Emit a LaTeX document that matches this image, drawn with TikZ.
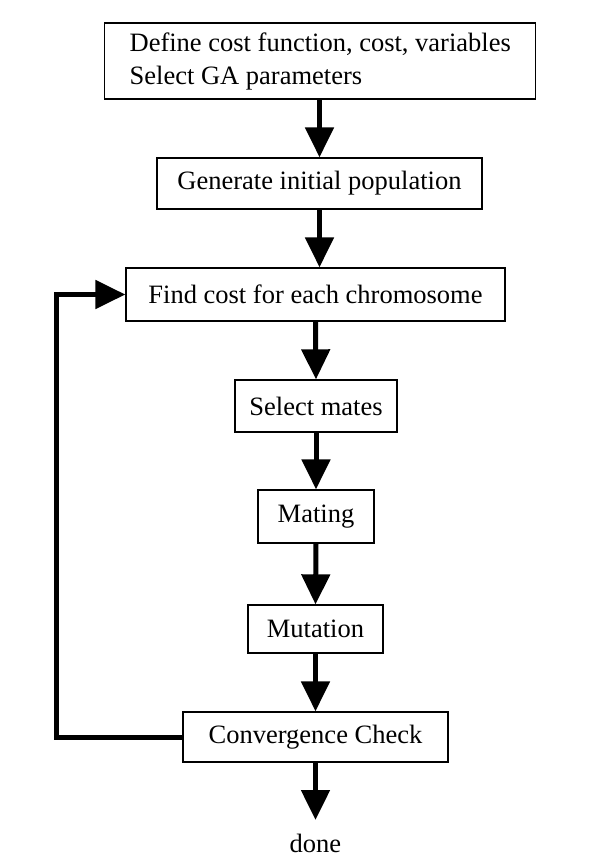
\documentclass[tikz,border=0pt]{standalone}
\usepackage{fontspec}
\setmainfont{Liberation Serif}
\usetikzlibrary{arrows.meta}
\tikzset{
  gabox/.style={draw, line width=1.3pt, fill=white, inner sep=0pt,
    font=\fontsize{26.5}{33}\selectfont},
  flow/.style={line width=5pt, -{Triangle[width=28pt,length=30pt]}},
}

\begin{document}
\begin{tikzpicture}[x=1pt,y=-1pt]
        \useasboundingbox (0,0) rectangle (592,868);

        \node[gabox, minimum height=76pt, inner xsep=25pt, align=left, anchor=west] (define) at (104,61)
            {Define cost function, cost, variables\\Select GA parameters};
        \node[gabox, minimum width=325pt, minimum height=51pt] (gen)   at (319.5,183.5) {Generate initial population};
        \node[gabox, minimum width=379pt, minimum height=53pt] (cost)  at (315.5,294.5) {Find cost for each chromosome};
        \node[gabox, minimum width=162pt, minimum height=52pt] (mates) at (316,406)     {Select mates};
        \node[gabox, minimum width=116pt, minimum height=53pt] (mating) at (316,516.5)  {Mating};
        \node[gabox, minimum width=135pt, minimum height=48pt] (mut)   at (315.5,629)   {Mutation};
        \node[gabox, minimum width=265pt, minimum height=50pt] (conv)  at (315.5,737)   {Convergence Check};
        \node[font=\fontsize{26.5}{33}\selectfont, anchor=north, inner xsep=0pt, inner ysep=14pt] (done) at (315.5,820) {done};

        \draw[flow] (define.south -| gen.north) -- (gen.north);
        \draw[flow] (gen.south) -- (gen.south |- cost.north);
        \draw[flow] (cost.south) -- (mates.north);
        \draw[flow] (mates.south) -- (mating.north);
        \draw[flow] (mating.south) -- (mut.north);
        \draw[flow] (mut.south) -- (conv.north);
        \draw[flow] (conv.south) -- (done.north);

        % back to the cost evaluation
        \draw[flow] (conv.west) -- ++(-126,0) |- (cost.west);
    \end{tikzpicture}
\end{document}
